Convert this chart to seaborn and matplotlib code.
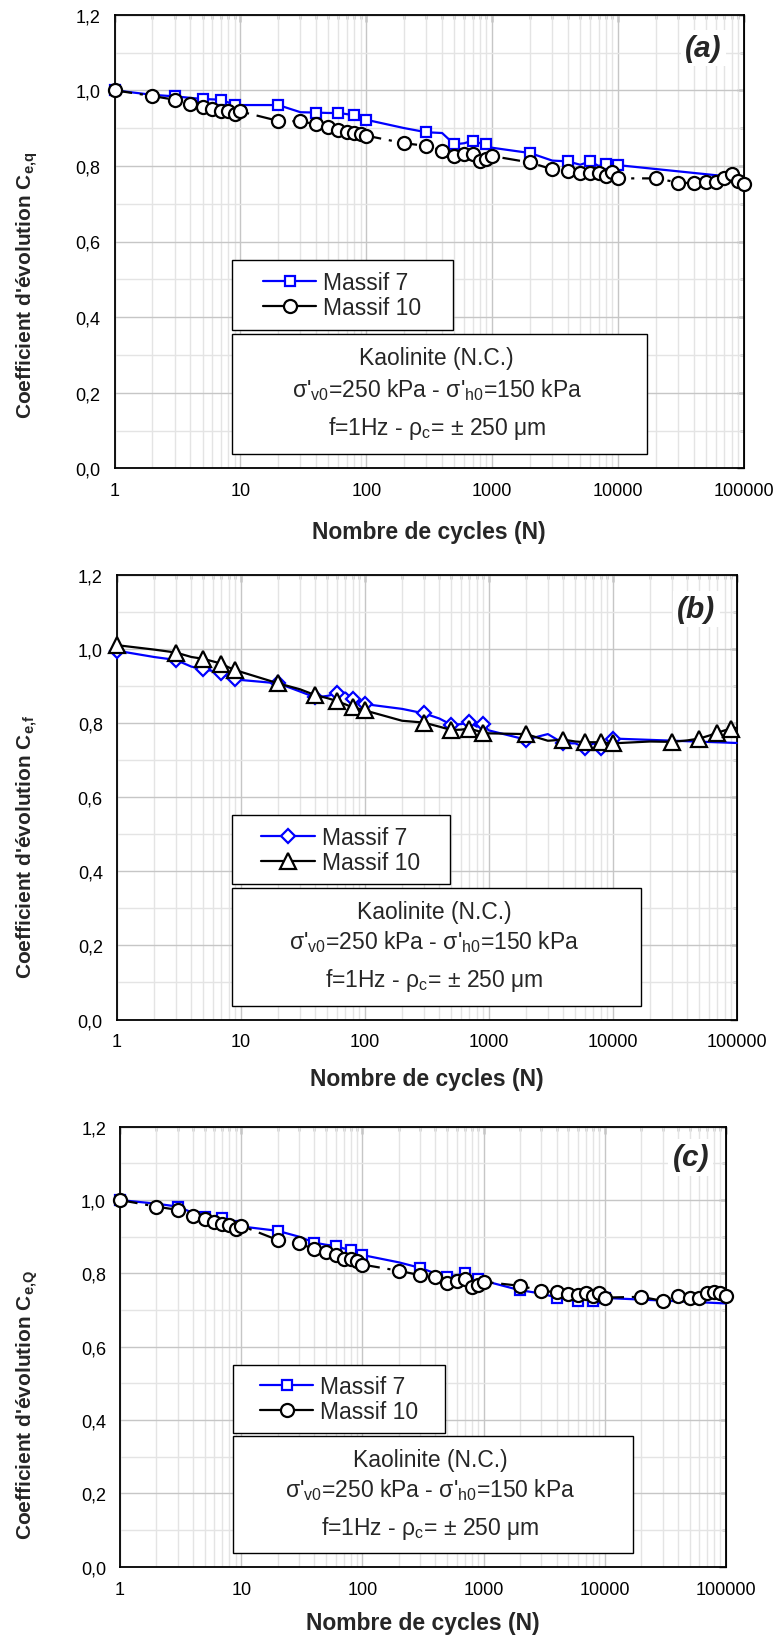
import matplotlib
matplotlib.use("Agg")
import matplotlib.pyplot as plt
import seaborn as sns
from matplotlib.lines import Line2D
from matplotlib.patches import Rectangle
from matplotlib.ticker import LogLocator, MultipleLocator, FixedLocator, FuncFormatter, NullFormatter

# nombre de cycles (toutes les mesures)
n_all = [1, 2, 3, 4, 5, 6, 7, 8, 9, 10, 20, 30, 40, 50, 60, 70, 80, 90,
         100, 200, 300, 400, 500, 600, 700, 800, 900, 1000, 2000, 3000, 4000,
         5000, 6000, 7000, 8000, 9000, 10000, 20000, 30000, 40000, 50000,
         60000, 70000, 80000, 90000, 100000]
# massif 7 : jusqu'a 10000 puis un dernier point
n_m7_a = [1, 2, 3, 4, 5, 6, 7, 8, 9, 10, 20, 30, 40, 50, 60, 70, 80, 90,
          100, 200, 300, 400, 500, 600, 700, 800, 900, 1000, 2000, 3000, 4000,
          5000, 6000, 7000, 8000, 9000, 10000, 70000]
n_m7_bc = [1, 2, 3, 4, 5, 6, 7, 8, 9, 10, 20, 30, 40, 50, 60, 70, 80, 90,
           100, 200, 300, 400, 500, 600, 700, 800, 900, 1000, 2000, 3000, 4000,
           5000, 6000, 7000, 8000, 9000, 10000, 100000]

# (a) C_e,q
ceq_m7 = [1.000, 0.988, 0.984, 0.980, 0.977, 0.976, 0.975, 0.968, 0.961, 0.961,
          0.961, 0.942, 0.941, 0.940, 0.940, 0.937, 0.934, 0.928, 0.922,
          0.900, 0.889, 0.887, 0.857, 0.860, 0.867, 0.860, 0.857, 0.848,
          0.834, 0.814, 0.812, 0.803, 0.812, 0.800, 0.805, 0.800, 0.802,
          0.773]
ceq_m10 = [1.000, 0.985, 0.975, 0.963, 0.956, 0.950, 0.946, 0.944, 0.937, 0.944,
           0.919, 0.918, 0.910, 0.902, 0.895, 0.890, 0.887, 0.884, 0.880,
           0.860, 0.853, 0.840, 0.827, 0.831, 0.831, 0.812, 0.818, 0.826,
           0.809, 0.791, 0.787, 0.781, 0.781, 0.782, 0.774, 0.784, 0.767,
           0.767, 0.756, 0.754, 0.758, 0.758, 0.767, 0.778, 0.760, 0.753]

# (b) C_e,f
cef_m7 = [0.995, 0.978, 0.970, 0.952, 0.945, 0.940, 0.934, 0.925, 0.918, 0.916,
          0.907, 0.885, 0.869, 0.873, 0.880, 0.882, 0.864, 0.860, 0.851,
          0.838, 0.826, 0.812, 0.795, 0.797, 0.802, 0.790, 0.797, 0.780,
          0.755, 0.770, 0.745, 0.745, 0.732, 0.745, 0.732, 0.745, 0.758,
          0.746]
cef_m10 = [1.010, 0.998, 0.990, 0.978, 0.973, 0.966, 0.960, 0.950, 0.943, 0.938,
           0.907, 0.891, 0.875, 0.867, 0.859, 0.850, 0.842, 0.838, 0.834,
           0.806, 0.801, 0.790, 0.781, 0.782, 0.785, 0.779, 0.774, 0.772,
           0.770, 0.752, 0.755, 0.750, 0.748, 0.748, 0.748, 0.746, 0.745,
           0.750, 0.749, 0.753, 0.758, 0.766, 0.774, 0.780, 0.785, 0.787]

# (c) C_e,Q
ceQ_m7 = [1.000, 0.990, 0.982, 0.965, 0.955, 0.952, 0.950, 0.940, 0.930, 0.928,
          0.916, 0.900, 0.884, 0.878, 0.875, 0.868, 0.865, 0.858, 0.850,
          0.830, 0.815, 0.800, 0.791, 0.795, 0.800, 0.790, 0.786, 0.780,
          0.754, 0.745, 0.734, 0.735, 0.724, 0.735, 0.724, 0.735, 0.733,
          0.718]
ceQ_m10 = [1.000, 0.982, 0.973, 0.957, 0.948, 0.941, 0.934, 0.932, 0.920, 0.930,
           0.891, 0.882, 0.866, 0.857, 0.850, 0.838, 0.838, 0.834, 0.824,
           0.807, 0.795, 0.789, 0.775, 0.779, 0.784, 0.764, 0.768, 0.777,
           0.766, 0.753, 0.748, 0.743, 0.741, 0.747, 0.739, 0.747, 0.734,
           0.736, 0.725, 0.739, 0.734, 0.732, 0.747, 0.750, 0.747, 0.739]

x_ticks = [1, 10, 100, 1000, 10000, 100000]
labels = ["Massif 7", "Massif 10"]

sns.set_style("white")
plt.rcParams["font.family"] = ["Liberation Sans", "DejaVu Sans"]
plt.rcParams["mathtext.fontset"] = "custom"
plt.rcParams["mathtext.rm"] = "Liberation Sans"
plt.rcParams["mathtext.it"] = "Liberation Sans:italic"
plt.rcParams["mathtext.bf"] = "Liberation Sans:bold"

W_PX, H_PX = 779, 1640
fig = plt.figure(figsize=(W_PX / 100, H_PX / 100), dpi=100)

dashdot = (0, (8, 3.5, 1.4, 3.5))


def make_panel(box, n7, c7, n10, c10, mk7, mk10, ms7, ms10, every10, ls10,
               ylab, letter, letter_pos, ylab_y, xlab_top):
    left, top, right, bottom = box
    w, h = right - left, bottom - top
    ax = fig.add_axes([left / W_PX, 1 - bottom / H_PX, w / W_PX, h / H_PX])

    st7 = dict(color="blue", lw=1.6, marker=mk7, markersize=ms7,
               markerfacecolor="white", markeredgecolor="blue", markeredgewidth=1.6)
    st10 = dict(color="black", lw=1.6, marker=mk10, markersize=ms10,
                markerfacecolor="white", markeredgecolor="black", markeredgewidth=1.6)

    sns.lineplot(x=n7, y=c7, ax=ax, sort=False, estimator=None, markevery=2,
                 clip_on=False, zorder=3, **st7)
    sns.lineplot(x=n10, y=c10, ax=ax, sort=False, estimator=None, markevery=every10,
                 linestyle=ls10, clip_on=False, zorder=4, **st10)

    ax.set_xscale("log")
    ax.set_xlim(1, 100000)
    ax.set_ylim(0, 1.2)
    ax.xaxis.set_major_locator(FixedLocator(x_ticks))
    ax.xaxis.set_major_formatter(FuncFormatter(lambda v, p: f"{int(round(v))}"))
    ax.xaxis.set_minor_locator(LogLocator(base=10, subs=range(2, 10)))
    ax.xaxis.set_minor_formatter(NullFormatter())
    ax.yaxis.set_major_locator(MultipleLocator(0.2))
    ax.yaxis.set_minor_locator(MultipleLocator(0.1))
    ax.yaxis.set_major_formatter(FuncFormatter(lambda v, p: f"{v:.1f}".replace(".", ",")))

    ax.set_axisbelow(True)
    ax.grid(True, which="major", color="#c6c6c6", lw=1.0)
    ax.grid(True, which="minor", color="#e4e4e4", lw=1.0)
    for sp in ax.spines.values():
        sp.set_linewidth(1.3)
        sp.set_color("black")
    ax.tick_params(which="major", direction="out", length=6.5, width=1.1,
                   labelsize=13, pad=3.5, colors="black")
    ax.tick_params(which="minor", direction="out", length=4, width=1.0)

    # ticks vers l'interieur en haut et a droite
    top_ax = ax.secondary_xaxis("top")
    top_ax.xaxis.set_major_locator(FixedLocator(x_ticks))
    top_ax.xaxis.set_minor_locator(LogLocator(base=10, subs=range(2, 10)))
    top_ax.tick_params(which="both", direction="in", labeltop=False, width=1.0)
    top_ax.tick_params(which="major", length=5)
    top_ax.tick_params(which="minor", length=3)
    right_ax = ax.secondary_yaxis("right")
    right_ax.yaxis.set_major_locator(MultipleLocator(0.2))
    right_ax.yaxis.set_minor_locator(MultipleLocator(0.1))
    right_ax.tick_params(which="both", direction="in", labelright=False, width=1.0)
    right_ax.tick_params(which="major", length=5)
    right_ax.tick_params(which="minor", length=3)

    ax.set_xlabel("Nombre de cycles (N)", fontsize=16.5, fontweight="bold")
    ax.xaxis.set_label_coords(0.5, (bottom - xlab_top) / h)
    ax.set_ylabel(ylab, fontsize=15, fontweight="bold")
    ax.yaxis.set_label_coords((40 - left) / w, ylab_y)

    ax.text(letter_pos[0], letter_pos[1], letter, transform=ax.transAxes,
            fontsize=21.5, fontweight="bold", fontstyle="italic", ha="center",
            va="center", zorder=5,
            bbox=dict(facecolor="white", edgecolor="none", pad=3))

    # legende
    ax.add_patch(Rectangle((0.186, 0.304), 0.351, 0.155, transform=ax.transAxes,
                           facecolor="white", edgecolor="black", lw=1.0, zorder=6))
    handles = [Line2D([], [], **st7), Line2D([], [], **st10)]
    leg = ax.legend(handles, labels, loc="center",
                    bbox_to_anchor=(0.186 + 0.351 / 2, 0.304 + 0.155 / 2),
                    frameon=False, fontsize=16.5, handlelength=2.35,
                    handletextpad=0.3, labelspacing=0.1, borderpad=0,
                    numpoints=1)
    leg.set_zorder(7)

    # conditions d'essai
    ax.add_patch(Rectangle((0.186, 0.031), 0.66, 0.265, transform=ax.transAxes,
                           facecolor="white", edgecolor="black", lw=1.0, zorder=6))
    info = ["Kaolinite (N.C.)",
            r"σ'$_\mathrm{v0}$=250 kPa - σ'$_\mathrm{h0}$=150 kPa",
            r"f=1Hz - ρ$_\mathrm{c}$= ± 250 μm"]
    for txt, yy in zip(info, [0.229, 0.160, 0.075]):
        ax.text(0.512, yy, txt, transform=ax.transAxes, fontsize=16.5,
                ha="center", va="baseline", zorder=7)
    return ax


make_panel((114.5, 15.7, 744, 469.3), n_m7_a, ceq_m7, n_all, ceq_m10,
           "s", "o", 7.6, 9.4, 1, dashdot,
           r"Coefficient d'évolution C$_\mathbf{e,\!q}$", "(a)", (0.935, 0.927),
           0.405, 521.5)
make_panel((116.7, 575.7, 736.7, 1020.5), n_m7_bc, cef_m7, n_all, cef_m10,
           "D", "^", 7.0, 12.0, 2, "-",
           r"Coefficient d'évolution C$_\mathbf{e,\!f}$", "(b)", (0.935, 0.923),
           0.39, 1068)
make_panel((120, 1127.7, 726, 1567.7), n_m7_bc, ceQ_m7, n_all, ceQ_m10,
           "s", "o", 7.6, 9.4, 1, dashdot,
           r"Coefficient d'évolution C$_\mathbf{e,\!Q}$", "(c)", (0.942, 0.930),
           0.37, 1612.5)

fig.savefig("out.png", dpi=100)
